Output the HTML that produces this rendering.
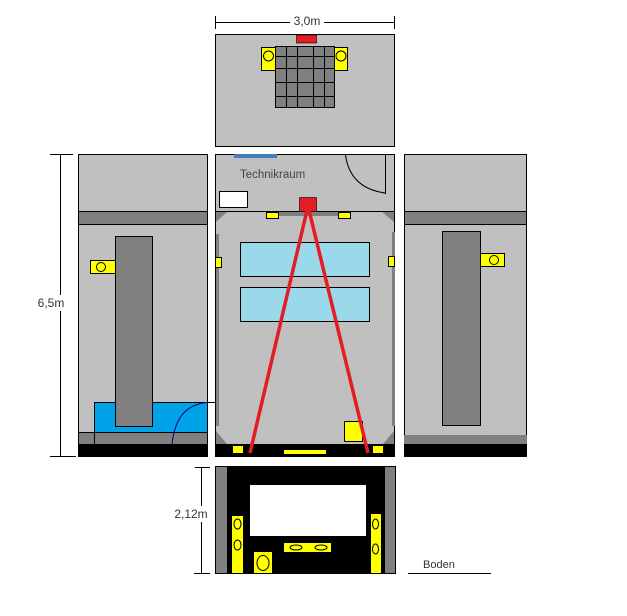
<!DOCTYPE html>
<html><head><meta charset="utf-8"><style>
html,body{margin:0;padding:0;background:#fff;}
svg{display:block;}
text{font-family:"Liberation Sans","DejaVu Sans",sans-serif;}
</style></head><body>
<svg width="627" height="616" viewBox="0 0 627 616" xmlns="http://www.w3.org/2000/svg">
<rect width="627" height="616" fill="#fff"/>
<!-- top dimension -->
<line x1="215" y1="22.5" x2="395" y2="22.5" stroke="#000"/>
<line x1="215.5" y1="16" x2="215.5" y2="29" stroke="#000"/>
<line x1="394.5" y1="16" x2="394.5" y2="29" stroke="#000"/>
<rect x="290" y="14" width="34" height="14" fill="#fff"/>
<text x="307" y="25" font-size="12" text-anchor="middle" fill="#333">3,0m</text>

<!-- top panel -->
<rect x="215.5" y="34.5" width="179" height="112" fill="#c0c0c0" stroke="#000"/>
<rect x="296.5" y="35" width="20" height="8" fill="#e51c23" stroke="#000" stroke-width="0.6"/>
<rect x="275.5" y="46.5" width="59" height="61" fill="#808080" stroke="#000"/>
<g stroke="#000" stroke-width="1">
<line x1="286.5" y1="46" x2="286.5" y2="107"/><line x1="297.5" y1="46" x2="297.5" y2="107"/>
<line x1="313.5" y1="46" x2="313.5" y2="107"/><line x1="324.5" y1="46" x2="324.5" y2="107"/>
<line x1="275" y1="56.5" x2="335" y2="56.5"/><line x1="275" y1="68.5" x2="335" y2="68.5"/>
<line x1="275" y1="82.5" x2="335" y2="82.5"/><line x1="275" y1="96.5" x2="335" y2="96.5"/>
</g>
<rect x="261.5" y="47.5" width="14" height="23" fill="#ffff00" stroke="#000"/>
<circle cx="268.5" cy="56" r="5" fill="none" stroke="#000"/>
<rect x="334.5" y="47.5" width="13" height="23" fill="#ffff00" stroke="#000"/>
<circle cx="341" cy="56" r="5" fill="none" stroke="#000"/>

<!-- left dimension -->
<line x1="60.5" y1="154" x2="60.5" y2="457" stroke="#000"/>
<line x1="50" y1="154.5" x2="73" y2="154.5" stroke="#000"/>
<line x1="50" y1="456.5" x2="76" y2="456.5" stroke="#000"/>
<rect x="36" y="295" width="30" height="16" fill="#fff"/>
<text x="51" y="307" font-size="12" text-anchor="middle" fill="#333">6,5m</text>

<!-- left panel -->
<rect x="78.5" y="154.5" width="129" height="302" fill="#c0c0c0" stroke="#000"/>
<rect x="78.5" y="211.5" width="129" height="13" fill="#808080" stroke="#000"/>
<rect x="94.5" y="402.5" width="113" height="30" fill="#00a2e8" stroke="#000"/>
<line x1="207" y1="402.5" x2="215" y2="402.5" stroke="#000"/>
<rect x="115.5" y="236.5" width="37" height="190" fill="#808080" stroke="#000"/>
<rect x="90.5" y="260.5" width="25" height="13" fill="#ffff00" stroke="#000"/>
<circle cx="101" cy="267" r="4.5" fill="none" stroke="#000"/>
<rect x="78.5" y="432.5" width="129" height="12" fill="#808080" stroke="#000"/>
<line x1="94.5" y1="432" x2="94.5" y2="445" stroke="#000"/>
<rect x="78" y="444" width="130" height="13" fill="#000"/>
<path d="M207 402.5 Q176 405 172 444" fill="none" stroke="#00007a"/>

<!-- center panel -->
<rect x="215.5" y="154.5" width="179" height="302" fill="#c0c0c0" stroke="#000"/>
<rect x="234" y="154" width="43" height="4" fill="#3f7fbf"/>
<path d="M345.5 155 Q350 188 385 193" fill="none" stroke="#000"/>
<line x1="385.5" y1="155" x2="385.5" y2="194" stroke="#000"/>
<text x="240" y="178" font-size="11.5" fill="#444">Technikraum</text>
<rect x="219.5" y="191.5" width="28" height="16" fill="#fff" stroke="#000"/>
<line x1="215" y1="211.5" x2="395" y2="211.5" stroke="#000"/>
<polygon points="216,212 227,212 216,222" fill="#808080"/>
<polygon points="394,212 382,212 394,222" fill="#808080"/>
<rect x="276" y="212" width="63" height="4" fill="#808080"/>
<rect x="266.5" y="212.5" width="12" height="6" fill="#ffff00" stroke="#000"/>
<rect x="338.5" y="212.5" width="12" height="6" fill="#ffff00" stroke="#000"/>
<rect x="216" y="234" width="3" height="192" fill="#808080"/>
<rect x="392" y="232" width="3" height="194" fill="#808080"/>
<rect x="215.5" y="257.5" width="6" height="10" fill="#ffff00" stroke="#000"/>
<rect x="388.5" y="256.5" width="6" height="10" fill="#ffff00" stroke="#000"/>
<rect x="240.5" y="242.5" width="129" height="34" fill="#99d9ea" stroke="#000"/>
<rect x="240.5" y="287.5" width="129" height="34" fill="#99d9ea" stroke="#000"/>
<rect x="344.5" y="421.5" width="18" height="20" fill="#ffff00" stroke="#000"/>
<polygon points="216,431 227,444 216,444" fill="#808080"/>
<polygon points="394,431 383,444 394,444" fill="#808080"/>
<rect x="215" y="444" width="180" height="13" fill="#000"/>
<rect x="232.5" y="445.5" width="11" height="8" fill="#ffff00" stroke="#000"/>
<rect x="372.5" y="445.5" width="11" height="8" fill="#ffff00" stroke="#000"/>
<rect x="283.5" y="449.5" width="43" height="5" fill="#ffff00" stroke="#000"/>
<rect x="299.5" y="197.5" width="17" height="14" fill="#e51c23" stroke="#000" stroke-width="0.6"/>
<line x1="308" y1="206" x2="250" y2="453" stroke="#e51c23" stroke-width="3.5"/>
<line x1="308" y1="206" x2="368" y2="453" stroke="#e51c23" stroke-width="3.5"/>

<!-- right panel -->
<rect x="404.5" y="154.5" width="122" height="302" fill="#c0c0c0" stroke="#000"/>
<rect x="404.5" y="211.5" width="122" height="13" fill="#808080" stroke="#000"/>
<rect x="442.5" y="231.5" width="38" height="194" fill="#808080" stroke="#000"/>
<rect x="480.5" y="253.5" width="24" height="13" fill="#ffff00" stroke="#000"/>
<circle cx="494" cy="260" r="4.5" fill="none" stroke="#000"/>
<rect x="404" y="435" width="123" height="9" fill="#808080"/>
<rect x="404" y="444" width="123" height="13" fill="#000"/>

<!-- bottom panel -->
<rect x="215" y="466" width="181" height="108" fill="#000"/>
<rect x="216" y="467" width="11" height="106" fill="#808080"/>
<rect x="385" y="467" width="10" height="106" fill="#808080"/>
<rect x="250" y="485" width="116" height="51" fill="#fff"/>
<rect x="232" y="516" width="11" height="57" fill="#ffff00"/>
<ellipse cx="237.5" cy="524" rx="3.5" ry="5" fill="none" stroke="#000"/>
<ellipse cx="237.5" cy="545" rx="3.5" ry="5" fill="none" stroke="#000"/>
<rect x="371" y="514" width="10" height="59" fill="#ffff00"/>
<ellipse cx="375.5" cy="524" rx="3" ry="5" fill="none" stroke="#000"/>
<ellipse cx="375.5" cy="549" rx="3" ry="5" fill="none" stroke="#000"/>
<rect x="284" y="543" width="47" height="9" fill="#ffff00"/>
<ellipse cx="296" cy="547.5" rx="6" ry="2.5" fill="none" stroke="#000"/>
<ellipse cx="321" cy="547.5" rx="6" ry="2.5" fill="none" stroke="#000"/>
<rect x="254" y="552" width="18" height="21" fill="#ffff00"/>
<ellipse cx="263" cy="563" rx="6" ry="7.5" fill="none" stroke="#000"/>

<!-- bottom dimension -->
<line x1="201.5" y1="467" x2="201.5" y2="573" stroke="#000"/>
<line x1="195" y1="467.5" x2="210" y2="467.5" stroke="#000"/>
<line x1="194" y1="573.5" x2="210" y2="573.5" stroke="#000"/>
<rect x="174" y="506" width="35" height="16" fill="#fff"/>
<text x="191" y="518" font-size="12" text-anchor="middle" fill="#333">2,12m</text>
<text x="423" y="568" font-size="11" fill="#333">Boden</text>
<line x1="408" y1="573.5" x2="491" y2="573.5" stroke="#000"/>
</svg>
</body></html>
